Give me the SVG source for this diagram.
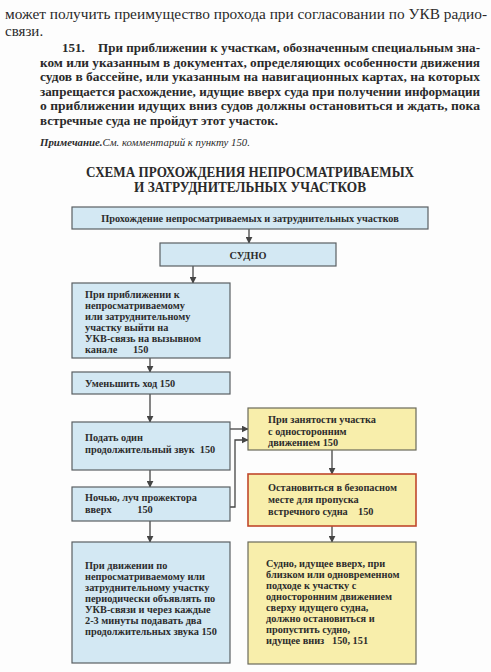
<svg xmlns="http://www.w3.org/2000/svg" width="491" height="672" viewBox="0 0 491 672">
<style>
.pg{font-family:"Liberation Serif","Times New Roman",serif;fill:#2a2a2a}
.reg{font-size:15px}
.bd{font-size:13px;font-weight:bold}
.note{font-size:11px;font-style:italic}
.ttl{font-size:15px;font-weight:bold;fill:#2a2a2a;font-family:"Liberation Serif","Times New Roman",serif}
.bt{font-family:"Liberation Serif","Times New Roman",serif;font-size:10.3px;font-weight:bold;fill:#2c2c2c;white-space:pre}
.blue{fill:#d3e8f3;stroke:#5a5f63;stroke-width:1.2}
.yel{fill:#f8eeab;stroke:#6a6a5a;stroke-width:1.2}
.red{fill:#f8eeab;stroke:#c0482c;stroke-width:1.6}
.ln{fill:none;stroke:#454545;stroke-width:1.3}
</style>
<defs>
<marker id="ah" viewBox="0 0 10 10" refX="9" refY="5" markerWidth="7" markerHeight="7" markerUnits="userSpaceOnUse" orient="auto">
<path d="M0,0 L10,5 L0,10 Z" fill="#454545"/>
</marker>
</defs>
<rect width="491" height="672" fill="#fdfdfd"/>
<g id="page-text">
<text class="pg reg" x="5" y="18.5" textLength="482" lengthAdjust="spacingAndGlyphs">может получить преимущество прохода при согласовании по УКВ радио-</text>
<text class="pg reg" x="5" y="36">связи.</text>
<text class="pg bd" x="62" y="52">151.</text>
<text class="pg bd" x="98" y="52" textLength="382" lengthAdjust="spacingAndGlyphs">При приближении к участкам, обозначенным специальным зна-</text>
<text class="pg bd" x="40" y="66.5" textLength="440" lengthAdjust="spacingAndGlyphs">ком или указанным в документах, определяющих особенности движения</text>
<text class="pg bd" x="40" y="81" textLength="440" lengthAdjust="spacingAndGlyphs">судов в бассейне, или указанным на навигационных картах, на которых</text>
<text class="pg bd" x="40" y="95.5" textLength="440" lengthAdjust="spacingAndGlyphs">запрещается расхождение, идущие вверх суда при получении информации</text>
<text class="pg bd" x="40" y="110" textLength="440" lengthAdjust="spacingAndGlyphs">о приближении идущих вниз судов должны остановиться и ждать, пока</text>
<text class="pg bd" x="40" y="124.5" textLength="238" lengthAdjust="spacingAndGlyphs">встречные суда не пройдут этот участок.</text>
<text class="pg note" x="40" y="145.5" textLength="210" lengthAdjust="spacingAndGlyphs"><tspan font-weight="bold">Примечание.</tspan>См. комментарий к пункту 150.</text>
</g>
<g id="title">
<text class="ttl" x="86" y="177" textLength="328" lengthAdjust="spacingAndGlyphs">СХЕМА ПРОХОЖДЕНИЯ НЕПРОСМАТРИВАЕМЫХ</text>
<text class="ttl" x="134" y="192" textLength="232" lengthAdjust="spacingAndGlyphs">И ЗАТРУДНИТЕЛЬНЫХ УЧАСТКОВ</text>
</g>
<g id="connectors">
<line class="ln" x1="249" y1="229" x2="249" y2="243" marker-end="url(#ah)"/>
<line class="ln" x1="193" y1="266" x2="193" y2="283" marker-end="url(#ah)"/>
<line class="ln" x1="150" y1="358" x2="150" y2="372" marker-end="url(#ah)"/>
<line class="ln" x1="150" y1="394" x2="150" y2="422" marker-end="url(#ah)"/>
<line class="ln" x1="150" y1="470" x2="150" y2="487" marker-end="url(#ah)"/>
<line class="ln" x1="150" y1="521" x2="150" y2="542" marker-end="url(#ah)"/>
<line class="ln" x1="229" y1="429" x2="248" y2="429" marker-end="url(#ah)"/>
<polyline class="ln" points="229,507 235,507 235,440 248,440" marker-end="url(#ah)"/>
<line class="ln" x1="332" y1="450" x2="332" y2="474" marker-end="url(#ah)"/>
<line class="ln" x1="332" y1="526" x2="332" y2="542" marker-end="url(#ah)"/>
</g>
<g id="n-start">
<rect class="blue" x="72" y="207" width="356" height="22"/>
<text class="bt" x="250" y="222" text-anchor="middle" font-size="10.5">Прохождение непросматриваемых и затруднительных участков</text>
</g>
<g id="n-ship">
<rect class="blue" x="160" y="243" width="176" height="23"/>
<text class="bt" x="248" y="258.5" text-anchor="middle" font-size="10.5">СУДНО</text>
</g>
<g id="n-vhf">
<rect class="blue" x="72" y="283" width="158" height="75"/>
<text class="bt"><tspan x="85" y="298">При приближении к</tspan><tspan x="85" y="309">непросматриваемому</tspan><tspan x="85" y="320">или затруднительному</tspan><tspan x="85" y="331">участку выйти на</tspan><tspan x="85" y="342">УКВ-связь на вызывном</tspan><tspan x="85" y="353">канале      150</tspan></text>
</g>
<g id="n-slow">
<rect class="blue" x="72" y="372" width="158" height="22"/>
<text class="bt" x="85" y="386.5">Уменьшить ход 150</text>
</g>
<g id="n-sound">
<rect class="blue" x="72" y="422" width="158" height="48"/>
<text class="bt"><tspan x="85" y="441">Подать один</tspan><tspan x="85" y="453">продолжительный звук  150</tspan></text>
</g>
<g id="n-night">
<rect class="blue" x="72" y="487" width="158" height="34"/>
<text class="bt"><tspan x="85" y="501">Ночью, луч прожектора</tspan><tspan x="85" y="513">вверх          150</tspan></text>
</g>
<g id="n-moving">
<rect class="blue" x="72" y="542" width="158" height="121"/>
<text class="bt"><tspan x="85" y="569">При движении по</tspan><tspan x="85" y="580">непросматриваемому или</tspan><tspan x="85" y="591">затруднительному участку</tspan><tspan x="85" y="602">периодически объявлять по</tspan><tspan x="85" y="613">УКВ-связи и через каждые</tspan><tspan x="85" y="624">2-3 минуты подавать два</tspan><tspan x="85" y="635">продолжительных звука 150</tspan></text>
</g>
<g id="n-busy">
<rect class="yel" x="248" y="408" width="168" height="42"/>
<text class="bt"><tspan x="268" y="423">При занятости участка</tspan><tspan x="268" y="434.5">с односторонним</tspan><tspan x="268" y="446">движением 150</tspan></text>
</g>
<g id="n-stop">
<rect class="red" x="248" y="474" width="168" height="52"/>
<text class="bt"><tspan x="268" y="491">Остановиться в безопасном</tspan><tspan x="268" y="503">месте для пропуска</tspan><tspan x="268" y="515">встречного судна    150</tspan></text>
</g>
<g id="n-upstream">
<rect class="yel" x="248" y="542" width="168" height="122"/>
<text class="bt"><tspan x="266" y="567">Судно, идущее вверх, при</tspan><tspan x="266" y="578">близком или одновременном</tspan><tspan x="266" y="589">подходе к участку с</tspan><tspan x="266" y="600">односторонним движением</tspan><tspan x="266" y="611">сверху идущего судна,</tspan><tspan x="266" y="622">должно остановиться и</tspan><tspan x="266" y="633">пропустить судно,</tspan><tspan x="266" y="644">идущее вниз   150, 151</tspan></text>
</g>
</svg>
